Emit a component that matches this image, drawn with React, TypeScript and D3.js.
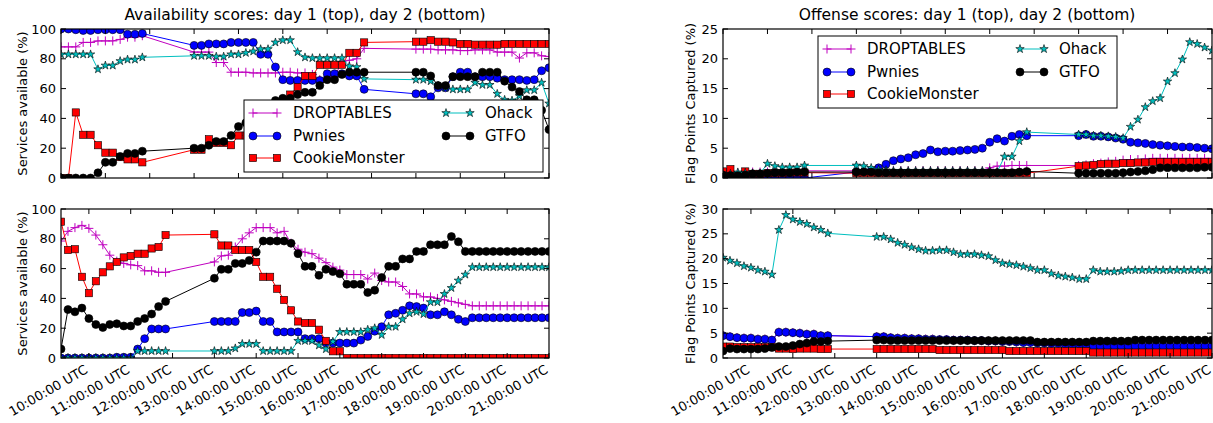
import React from 'react'
import * as d3 from 'd3'

// sample times (10 minute snapshots, with breaks)
const day1Times = [
  '10:00', '10:10', '10:20', '10:30', '10:40', '10:50', '11:00', '11:10', '11:20', '11:30', '11:40', '11:50',
  '13:00', '13:10', '13:20', '13:30', '13:40', '13:50', '14:00', '14:10', '14:20', '14:30', '14:40', '14:50',
  '15:00', '15:10', '15:20', '15:30', '15:40', '15:50', '16:00', '16:10', '16:20', '16:30', '16:40', '16:50',
  '18:00', '18:10', '18:20', '18:30', '18:40', '18:50', '19:00', '19:10', '19:20', '19:30', '19:40', '19:50',
  '20:00', '20:10', '20:20', '20:30', '20:40', '20:50', '21:00',
]
const day2Times = [
  '09:20', '09:30', '09:40', '09:50', '10:00', '10:10', '10:20', '10:30', '10:40', '10:50', '11:00', '11:10',
  '11:20', '11:30', '11:40', '11:50',
  '13:00', '13:10', '13:20', '13:30', '13:40', '13:50', '14:00', '14:10', '14:20', '14:30', '14:40', '14:50',
  '15:00', '15:10', '15:20', '15:30', '15:40', '15:50', '16:00', '16:10', '16:20', '16:30', '16:40', '16:50',
  '17:00', '17:10', '17:20', '17:30', '17:40', '17:50', '18:00', '18:10', '18:20', '18:30', '18:40', '18:50',
  '19:00', '19:10', '19:20', '19:30', '19:40', '19:50', '20:00', '20:10', '20:20', '20:30', '20:40', '20:50',
  '21:00',
]

const teams = ['DROPTABLES', 'Pwnies', 'CookieMonster', 'Ohack', 'GTFO']
const teamColors = ['#bf00bf', '#0000ff', '#ff0000', '#00bfbf', '#000000']
const teamMarkers = ['plus', 'circle', 'square', 'star', 'circle']

// availability, day 1
const availD1Droptables = [
  88, 88, 88, 91, 91, 92, 92, 92, 93, 94.5, 94.5, 95.5,
  84.5, 84.5, 84.5, 77.5, 77.5, 71, 71, 71, 70.5, 70.5, 70.5, 70.5, 71, 71, 70.5, 70.5, 69.5, 66, 67, 68, 78, 79, 80, 87,
  86.5, 86.5, 86.5, 86, 86, 86, 85.5, 85.5, 86, 86, 86, 84.5, 84.5, 84.5, 80.5, 84, 84, 82, 81.5,
]
const availD1Pwnies = [
  100, 100, 99.5, 99, 99, 99.5, 99.5, 99.5, 99.5, 96.5, 96.5, 97,
  89, 89, 90, 90, 90, 91, 91, 91, 91, 83, 83, 74.5, 66, 65.5, 65.5, 65.5, 65.5, 65.5, 70, 70, 70, 68.5, 68.5, 59.5,
  56.5, 56.5, 54.5, 60.5, 60.5, 68, 71, 71, 68, 68, 68, 67, 66, 66, 66, 65.5, 66, 72, 74,
]
const availD1Cookie = [
  0, 0, 44, 29, 29, 22, 17, 17, 14, 12.5, 12.5, 10.5,
  19, 19, 26, 23.5, 23.5, 22, 28.5, 28.5, 33, 38, 42, 47, 52, 56, 61, 68.5, 68.5, 76, 76, 76, 76, 84, 84, 91,
  91.5, 91.5, 92.5, 91.5, 91.5, 91, 90, 90, 89.5, 89.5, 89.5, 89.5, 90, 90, 90, 90, 90, 90, 90,
]
const availD1Ohack = [
  83, 83, 83, 83, 83, 73, 75.5, 75.5, 78.5, 79.5, 79.5, 81,
  82, 82, 82, 81.5, 81.5, 83, 83, 84, 85, 86.5, 86.5, 91, 92.5, 92.5, 84.5, 81, 80.5, 80.5, 80.5, 80.5, 80.5, 75, 74.5, 66.5,
  66, 66, 65, 62, 60.5, 59.5, 59.5, 59.5, 64, 62.5, 62.5, 56.5, 52.5, 52, 55, 59, 59, 64, 50,
]
const availD1Gtfo = [
  0, 0, 0, 0, 0, 3.5, 10.5, 10.5, 14.5, 16.5, 16.5, 18,
  20, 20, 22, 24.5, 24.5, 28.5, 34.5, 37, 41, 45, 49, 52, 53.5, 53.5, 56, 57.5, 57.5, 62, 66, 66, 69.5, 71, 71, 71,
  71, 71, 68.5, 62, 62, 68, 68, 68, 68, 71, 71, 71, 65, 61, 58, 52.5, 52.5, 45.5, 32.5,
]

// availability, day 2
const availD2Droptables = [
  78.5, 85, 87.5, 89, 87, 82.5, 76, 69, 65, 63.5, 62.5, 62, 58.5, 58.5, 57.5, 57.5,
  64.5, 68.5, 69, 74.5, 80, 84, 87.5, 87.5, 87.5, 84, 85, 77, 73, 71, 70, 67, 64, 61, 59, 56, 56, 56, 53, 57,
  52, 51, 51, 48, 43, 43, 41, 41, 40, 39, 38, 37, 36, 35,
  35, 35, 35, 35, 35, 35, 35, 35, 35, 35, 35,
]
const availD2Pwnies = [
  0, 0, 0, 0, 0, 0, 0, 0, 0.5, 0.5, 0.5, 6, 13, 19.5, 19.5, 19.5,
  24.5, 24.5, 24.5, 24.5, 30.5, 30.5, 31.5, 24.5, 24.5, 17.5, 17.5, 17.5, 17.5, 13, 13, 13, 10, 10, 10, 10, 10, 12,
  14.5, 18, 21, 29, 30, 32, 35, 34.5, 33.5, 29, 29, 31, 29, 26, 24.5, 27,
  27, 27, 27, 27, 27, 27, 27, 27, 27, 27, 27,
]
const availD2Cookie = [
  91.5, 72.5, 73, 54.5, 43.5, 51.5, 57.5, 61.5, 64.5, 67.5, 68.5, 70, 70, 73.5, 74.5, 82.5,
  83, 75.5, 75.5, 72.5, 72.5, 72.5, 64.5, 54.5, 54.5, 46.5, 39, 32, 24.5, 23.5, 23.5, 19, 11.5, 4.5, 4.5,
  0, 0, 0, 0, 0, 0, 0, 0, 0, 0, 0, 0, 0, 0, 0, 0, 0, 0, 0, 0, 0, 0, 0, 0, 0, 0, 0, 0, 0, 0,
]
const availD2Ohack = [
  0, 0, 0, 0, 0, 0, 0, 0, 0, 0, 0, 4.7, 4.7, 4.7, 4.7, 4.7,
  4.7, 4.7, 4.7, 6.5, 9.5, 9.5, 9.5, 4.7, 4.7, 4.7, 4.7, 4.7, 11.5, 11.5, 11.5, 8.5, 6, 11, 17.5, 17.5, 17.5, 17.5,
  19, 20, 15.5, 21, 21, 26, 30, 31, 29.5, 37.5, 37.5, 43, 47, 52, 56, 61,
  61, 61, 61, 61, 61, 61, 61, 61, 61, 61, 61,
]
const availD2Gtfo = [
  6, 32.5, 31, 33.5, 26.5, 22.5, 20.5, 22.5, 23, 21.5, 21.5, 24.5, 26.5, 29.5, 34.5, 38,
  53.5, 59.5, 59.5, 63.5, 63.5, 65.5, 71, 78.5, 78.5, 78.5, 78.5, 77, 70, 61.5, 61.5, 55.5, 59.5, 58, 56.5, 49.5,
  49.5, 49.5, 44, 45.5, 54, 61.5, 61.5, 66.5, 66.5, 71.5, 71.5, 76, 76, 76, 81.5, 78, 71.5, 71.5,
  71.5, 71.5, 71.5, 71.5, 71.5, 71.5, 71.5, 71.5, 71.5, 71.5, 71.5,
]

// offense, day 1
const offD1Droptables = [
  1.0, 0.7, 0.8, 0.9, 1.0, 1.0, 1.0, 1.0, 1.1, 1.1, 1.1, 1.2,
  1.2, 1.2, 1.2, 1.2, 1.2, 1.2, 1.2, 1.2, 1.2, 1.2, 1.2, 1.2, 1.2, 1.2, 1.2, 1.2, 1.2, 1.2, 1.7, 2.0, 2.0, 2.1, 2.1, 2.1,
  2.1, 2.2, 2.4, 2.5, 2.7, 2.8, 3.0, 3.1, 3.1, 3.2, 3.3, 3.3, 3.3, 3.3, 3.3, 3.3, 3.3, 3.3, 3.3,
]
const offD1Pwnies = [
  0, 0, 0, 0, 0, 0, 0, 0, 0, 0, 0, 0,
  1.0, 1.0, 1.2, 1.7, 2.3, 2.9, 3.2, 3.4, 3.9, 4.1, 4.7, 4.4, 4.5, 4.5, 4.6, 4.7, 4.8, 5.0, 6.0, 6.6, 6.2, 7.0, 7.3, 7.1,
  7.1, 7.3, 7.0, 7.0, 6.9, 6.7, 6.5, 6.0, 5.9, 5.8, 5.6, 5.5, 5.4, 5.3, 5.2, 5.2, 5.1, 5.0, 4.9,
]
const offD1Cookie = [
  1.1, 1.5, 0.5, 1.1, 0.7, 0.7, 0.8, 0.8, 0.8, 0.9, 0.9, 0.9,
  0.8, 0.8, 0.8, 0.8, 0.8, 0.8, 0.8, 0.8, 0.8, 0.8, 0.8, 0.8, 0.8, 0.8, 0.8, 0.8, 0.8, 0.8, 0.8, 0.8, 0.8, 0.8, 0.8, 0.8,
  2.0, 2.1, 2.2, 2.35, 2.4, 2.4, 2.5, 2.5, 2.6, 2.6, 2.7, 2.7, 2.7, 2.7, 2.7, 2.7, 2.7, 2.7, 2.7,
]
const offD1Ohack = [
  0.3, 0.7, 0.95, 0.9, 0.8, 0.8, 2.4, 2.0, 1.8, 1.8, 1.8, 2.1,
  2.1, 2.0, 1.7, 1.4, 1.3, 1.2, 1.2, 1.2, 1.2, 1.2, 1.2, 1.2, 1.2, 1.2, 1.2, 1.2, 1.2, 1.2, 1.2, 1.0, 3.6, 3.6, 6.2, 7.7,
  7.3, 7.3, 7.1, 7.1, 7.0, 6.9, 6.7, 8.6, 9.8, 11.9, 12.9, 13.4, 16.2, 17.6, 19.9, 22.8, 22.5, 21.9, 21.4,
]
const offD1Gtfo = [
  0.5, 0.4, 0.4, 0.5, 0.7, 0.7, 0.8, 0.9, 0.9, 0.9, 1.0, 1.0,
  1.0, 1.0, 1.0, 0.9, 0.9, 0.9, 0.9, 0.9, 0.9, 0.9, 0.9, 0.9, 0.9, 0.9, 0.9, 0.9, 0.9, 0.9, 0.9, 0.9, 0.9, 0.9, 1.0, 1.1,
  0.8, 0.8, 0.8, 0.8, 0.8, 0.8, 0.9, 1.0, 1.1, 1.2, 1.4, 1.7, 1.7, 1.7, 1.7, 1.7, 1.7, 1.8, 1.8,
]

// offense, day 2
const offD2Droptables = [
  4.5, 4.3, 4.1, 4.0, 4.0, 3.8, 3.8, 3.6, 5.2, 5.2, 5.1, 5.0, 4.8, 4.8, 4.5, 4.5,
  4.3, 4.3, 4.1, 4.0, 4.0, 3.9, 3.9, 3.8, 3.8, 3.7, 3.7, 3.6, 3.6, 3.6, 3.5, 3.5, 3.4, 3.4, 3.3, 3.3, 3.2, 3.1,
  3.1, 3.0, 3.0, 2.9, 2.9, 2.8, 2.8, 2.8, 2.7,
  2.4, 2.4, 2.4, 2.4, 2.4, 2.4, 2.4, 2.4, 2.4, 2.4, 2.4, 2.4, 2.4, 2.4, 2.4, 2.4, 2.4, 2.4,
]
const offD2Pwnies = [
  4.5, 4.3, 4.1, 4.0, 4.0, 3.8, 3.8, 3.6, 5.2, 5.2, 5.1, 5.0, 4.8, 4.8, 4.5, 4.5,
  4.3, 4.3, 4.1, 4.0, 4.0, 3.9, 3.9, 3.8, 3.8, 3.7, 3.7, 3.6, 3.6, 3.6, 3.5, 3.5, 3.4, 3.4, 3.3, 3.3, 3.2, 3.1,
  3.1, 3.0, 3.0, 2.9, 2.9, 2.8, 2.8, 2.8, 2.7,
  2.4, 2.4, 2.4, 2.4, 2.4, 2.4, 2.4, 2.4, 2.4, 2.4, 2.4, 2.4, 2.4, 2.4, 2.4, 2.4, 2.4, 2.4,
]
const offD2Cookie = [
  2.3, 2.3, 2.2, 2.2, 2.2, 2.2, 2.2, 2.2, 1.9, 1.9, 1.8, 1.9, 1.9, 1.9, 1.8, 1.8,
  1.8, 1.8, 1.8, 1.8, 1.8, 1.8, 1.8, 1.8, 1.8,
  1.6, 1.6, 1.6, 1.6, 1.6, 1.6, 1.6, 1.6, 1.6, 1.6,
  1.4, 1.4, 1.4, 1.4, 1.4, 1.4, 1.4, 1.4, 1.4, 1.4, 1.4, 1.4,
  1.1, 1.1, 1.1, 1.1, 1.1, 1.1, 1.1, 1.1, 1.1, 1.1, 1.1, 1.1, 1.1, 1.1, 1.1, 1.1, 1.1, 1.1,
]
const offD2Ohack = [
  20.2, 19.6, 19.1, 18.5, 18.2, 17.7, 17.4, 16.8, 25.8, 28.8, 27.9, 27.4, 27.0, 26.3, 25.8, 25.1,
  24.4, 24.4, 23.9, 23.2, 22.8, 22.3, 21.9, 21.6, 21.6, 21.7, 21.7, 21.3, 20.9, 20.9, 20.9, 20.7, 20.5, 19.7, 19.1,
  18.9, 18.7, 18.4, 18.1, 17.7, 17.7, 17.0, 16.6, 16.4, 16.2, 15.9, 15.9, 17.7, 17.4, 17.4, 17.4, 17.5, 17.7,
  17.7, 17.7, 17.7, 17.7, 17.7, 17.7, 17.7, 17.7, 17.7, 17.7, 17.7, 17.7,
]
const offD2Gtfo = [
  1.4, 1.9, 1.8, 1.8, 1.8, 1.8, 1.9, 2.1, 2.3, 2.3, 2.5, 2.8, 3.0, 3.3, 3.3, 3.4,
  3.6, 3.6, 3.5, 3.5, 3.5, 3.5, 3.5, 3.5, 3.5, 3.5, 3.5, 3.5, 3.5, 3.5, 3.5, 3.5, 3.5, 3.5, 3.5, 3.5, 3.5, 3.5, 3.5,
  3.2, 3.2, 3.2, 3.2, 3.2, 3.2, 3.2, 3.2,
  3.4, 3.4, 3.4, 3.4, 3.4, 3.4,
  3.6, 3.6, 3.6, 3.6, 3.6, 3.6, 3.6, 3.6, 3.6, 3.6, 3.6, 3.6,
]

const W = 1213
const H = 423
const FONT = 'DejaVu Sans'
const parseTime = d3.timeParse('%H:%M')
const fmtTick = d3.timeFormat('%H:%M:%S UTC')
const starPath = d3.symbol(d3.symbolStar, 22)() as string

type Panel = {
  id: string
  x0: number
  x1: number
  y0: number
  y1: number
  times: string[]
  yMax: number
  series: number[][]
  labels: boolean
  legend?: [number, number]
}

const panels: Panel[] = [
  { id: 'a1', x0: 61, x1: 549, y0: 29, y1: 178, times: day1Times, yMax: 100, labels: false, legend: [244, 100],
    series: [availD1Droptables, availD1Pwnies, availD1Cookie, availD1Ohack, availD1Gtfo] },
  { id: 'a2', x0: 61, x1: 549, y0: 209, y1: 358, times: day2Times, yMax: 100, labels: true,
    series: [availD2Droptables, availD2Pwnies, availD2Cookie, availD2Ohack, availD2Gtfo] },
  { id: 'o1', x0: 723, x1: 1212, y0: 29, y1: 178, times: day1Times, yMax: 25, labels: false, legend: [818, 36],
    series: [offD1Droptables, offD1Pwnies, offD1Cookie, offD1Ohack, offD1Gtfo] },
  { id: 'o2', x0: 723, x1: 1212, y0: 209, y1: 358, times: day2Times, yMax: 30, labels: true,
    series: [offD2Droptables, offD2Pwnies, offD2Cookie, offD2Ohack, offD2Gtfo] },
]

function Marker({ kind, x, y, color }: { kind: string; x: number; y: number; color: string }) {
  if (kind === 'plus')
    return <path d={`M${x - 4.5},${y}H${x + 4.5}M${x},${y - 4.5}V${y + 4.5}`} stroke={color} strokeWidth={1} fill="none" />
  if (kind === 'square')
    return <rect x={x - 3.6} y={y - 3.6} width={7.2} height={7.2} fill={color} stroke="#000" strokeWidth={0.6} />
  if (kind === 'star')
    return <path d={starPath} transform={`translate(${x},${y})`} fill={color} stroke="#000" strokeWidth={0.6} />
  return <circle cx={x} cy={y} r={4} fill={color} stroke="#000" strokeWidth={0.6} />
}

function Legend({ x, y }: { x: number; y: number }) {
  const rows = [13, 36, 58]
  const items = teams.map((t, i) => ({
    t,
    i,
    hx: x + (i < 3 ? 9 : 202),
    tx: x + (i < 3 ? 49 : 241),
    hy: y + rows[i < 3 ? i : i - 3],
  }))
  return (
    <g>
      <rect x={x} y={y} width={299} height={72} fill="#fff" stroke="#000" strokeWidth={1} />
      {items.map((d) => (
        <g key={d.t}>
          <line x1={d.hx} x2={d.hx + 24} y1={d.hy} y2={d.hy} stroke={teamColors[d.i]} strokeWidth={1} />
          <Marker kind={teamMarkers[d.i]} x={d.hx} y={d.hy} color={teamColors[d.i]} />
          <Marker kind={teamMarkers[d.i]} x={d.hx + 24} y={d.hy} color={teamColors[d.i]} />
          <text x={d.tx} y={d.hy} fontSize={15} dominantBaseline="central" fill="#000">
            {d.t}
          </text>
        </g>
      ))}
    </g>
  )
}

function ChartPanel({ p }: { p: Panel }) {
  const times = p.times.map((t) => parseTime(t) as Date)
  const x = d3.scaleTime().domain(d3.extent(times) as [Date, Date]).range([p.x0, p.x1])
  const y = d3.scaleLinear().domain([0, p.yMax]).range([p.y1, p.y0])
  const xTicks = x.ticks(d3.timeHour.every(1) as d3.TimeInterval)
  const yTicks = y.ticks(5)
  const line = d3
    .line<number>()
    .x((_, i) => x(times[i]))
    .y((d) => y(d))
  const tl = 5
  return (
    <g>
      <defs>
        <clipPath id={`clip-${p.id}`}>
          <rect x={p.x0} y={p.y0} width={p.x1 - p.x0} height={p.y1 - p.y0} />
        </clipPath>
      </defs>
      <g clipPath={`url(#clip-${p.id})`}>
        {p.series.map((s, si) => (
          <g key={si}>
            <path d={line(s) as string} fill="none" stroke={teamColors[si]} strokeWidth={1} />
            {s.map((v, i) => (
              <Marker key={i} kind={teamMarkers[si]} x={x(times[i])} y={y(v)} color={teamColors[si]} />
            ))}
          </g>
        ))}
      </g>
      {/* ticks, inside on all four sides */}
      {xTicks.map((t, i) => (
        <g key={`xt${i}`}>
          <line x1={x(t)} x2={x(t)} y1={p.y1} y2={p.y1 - tl} stroke="#000" />
          <line x1={x(t)} x2={x(t)} y1={p.y0} y2={p.y0 + tl} stroke="#000" />
          {p.labels && (
            <text
              transform={`translate(${x(t) - 5},${p.y1 + 6}) rotate(-30)`}
              textAnchor="end"
              dominantBaseline="hanging"
              fontSize={13}
              fill="#000"
            >
              {fmtTick(t)}
            </text>
          )}
        </g>
      ))}
      {yTicks.map((v) => (
        <g key={`yt${v}`}>
          <line x1={p.x0} x2={p.x0 + tl} y1={y(v)} y2={y(v)} stroke="#000" />
          <line x1={p.x1} x2={p.x1 - tl} y1={y(v)} y2={y(v)} stroke="#000" />
          <text x={p.x0 - 5} y={y(v)} textAnchor="end" dominantBaseline="central" fontSize={13} fill="#000">
            {v}
          </text>
        </g>
      ))}
      <rect x={p.x0} y={p.y0} width={p.x1 - p.x0} height={p.y1 - p.y0} fill="none" stroke="#000" strokeWidth={1.2} />
      {p.legend && <Legend x={p.legend[0]} y={p.legend[1]} />}
    </g>
  )
}

export default function App() {
  return (
    <svg
      width={W}
      height={H}
      style={{ position: 'absolute', left: 0, top: 0, background: '#fff' }}
      fontFamily={FONT}
    >
      {panels.map((p) => (
        <ChartPanel key={p.id} p={p} />
      ))}
      <text x={305} y={20} textAnchor="middle" fontSize={15.5} fill="#000">
        Availability scores: day 1 (top), day 2 (bottom)
      </text>
      <text x={967} y={20} textAnchor="middle" fontSize={15.5} fill="#000">
        Offense scores: day 1 (top), day 2 (bottom)
      </text>
      <text transform="translate(22,103.5) rotate(-90)" textAnchor="middle" dominantBaseline="central" fontSize={13}>
        Services available (%)
      </text>
      <text transform="translate(22,283.5) rotate(-90)" textAnchor="middle" dominantBaseline="central" fontSize={13}>
        Services available (%)
      </text>
      <text transform="translate(690,103.5) rotate(-90)" textAnchor="middle" dominantBaseline="central" fontSize={13}>
        Flag Points Captured (%)
      </text>
      <text transform="translate(690,283.5) rotate(-90)" textAnchor="middle" dominantBaseline="central" fontSize={13}>
        Flag Points Captured (%)
      </text>
    </svg>
  )
}
